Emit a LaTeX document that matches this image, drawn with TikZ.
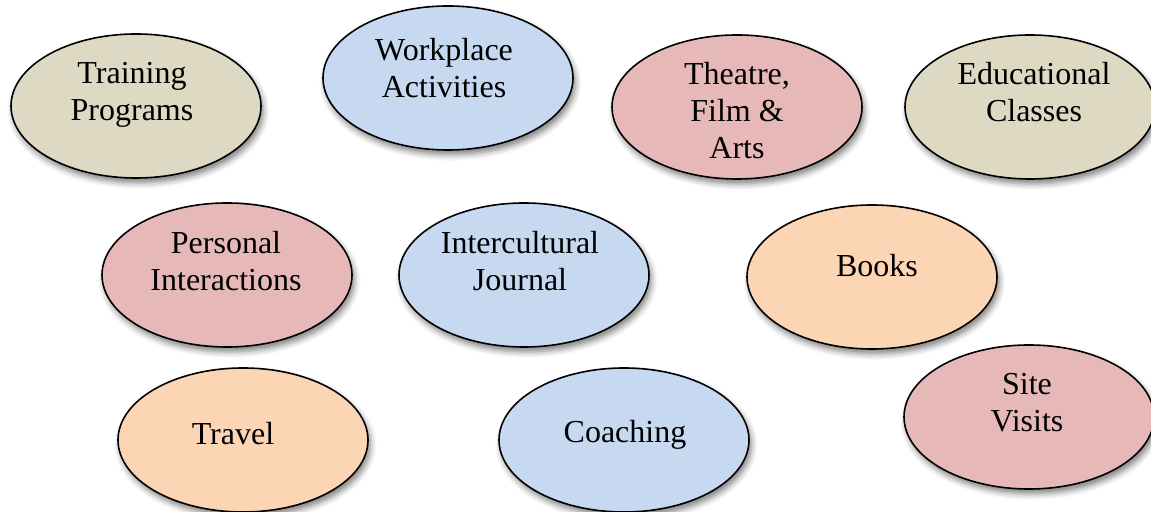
\documentclass[tikz,border=0pt]{standalone}
\usepackage{fontspec}
\setmainfont{Liberation Serif}
\usepackage{xcolor}
\usetikzlibrary{shapes.geometric,shadows.blur}
\definecolor{sandFill}{HTML}{DDD9C3}
\definecolor{skyFill}{HTML}{C6D9F1}
\definecolor{roseFill}{HTML}{E6B9B8}
\definecolor{peachFill}{HTML}{FCD5B5}

\begin{document}
\begin{tikzpicture}[
  x=0.5pt,y=-0.5pt,
  bubble/.style={ellipse,draw=black,line width=0.8pt,fill=#1,minimum width=125pt,minimum height=72pt,inner sep=0pt,
    blur shadow={shadow xshift=1.2pt,shadow yshift=-2.4pt,shadow blur radius=3pt,shadow opacity=50}},
  word/.style={font=\fontsize{16}{18.5}\selectfont,align=center,inner sep=0pt}
]
  \useasboundingbox (0,0) rectangle (1151,512);

  % top row
  \node[bubble=sandFill]  (train) at (136,106) {};
  \node[bubble=skyFill]   (work)  at (448,78)  {};
  \node[bubble=roseFill]  (arts)  at (737,107) {};
  \node[bubble=sandFill]  (class) at (1030,107) {};
  \node[word] (train-t) at (132,95)  {Training\\Programs};
  \node[word] (work-t)  at (444,68)  {Workplace\\Activities};
  \node[word] (arts-t)  at (737,111) {Theatre,\\Film \&\\Arts};
  \node[word] (class-t) at (1034,92) {Educational\\Classes};

  % middle row
  \node[bubble=roseFill]  (pers)  at (227,275) {};
  \node[bubble=skyFill]   (jour)  at (524,275) {};
  \node[bubble=peachFill] (books) at (872,277) {};
  \node[word] (pers-t)  at (226,261) {Personal\\Interactions};
  \node[word] (jour-t)  at (520,261) {Intercultural\\Journal};
  \node[word] (books-t) at (877,266) {Books};

  % bottom row
  \node[bubble=peachFill] (trav)  at (243,440) {};
  \node[bubble=skyFill]   (coach) at (624,440) {};
  \node[bubble=roseFill]  (site)  at (1029,417) {};
  \node[word] (trav-t)  at (233,434) {Travel};
  \node[word] (coach-t) at (625,435) {Coaching};
  \node[word] (site-t)  at (1027,403) {Site\\Visits};
\end{tikzpicture}
\end{document}
